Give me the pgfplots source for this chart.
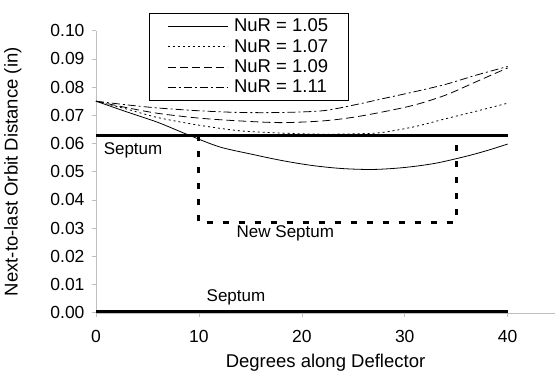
\documentclass[border=0pt]{standalone}
\usepackage{pgfplots}
\pgfplotsset{compat=1.18}
\usepackage{fontspec}
\setmainfont{Liberation Sans}
\newcommand{\lf}{\fontsize{17bp}{19bp}\selectfont}
\newcommand{\legf}{\fontsize{18.5bp}{21bp}\selectfont}
\begin{document}
\begin{tikzpicture}
\begin{axis}[
  scale only axis,
  width=459bp, height=282bp,
  at={(96bp,60.3bp)}, anchor=south west,
  xmin=0, xmax=44.6, ymin=0, ymax=0.1,
  axis lines=left,
  axis line style={draw=gray!50, -},
  clip=false,
  xtick={0,10,20,30,40},
  ytick={0,0.01,...,0.101},
  tick align=outside,
  major tick length=4bp,
  tick style={draw=gray!50, line width=0.6pt},
  /pgf/number format/assume math mode=true,
  /pgf/number format/.cd, fixed, fixed zerofill, precision=2, /pgfplots/.cd,
  xticklabel={\pgfmathprintnumber[fixed,precision=0]{\tick}},
  tick label style={font=\fontsize{17.5bp}{19bp}\selectfont},
  xticklabel style={yshift=-10bp},
  yticklabel style={xshift=-4bp},
  xlabel={Degrees along Deflector},
  ylabel={Next-to-last Orbit Distance (in)},
  label style={font=\fontsize{18.5bp}{20bp}\selectfont},
  xlabel style={at={(axis description cs:0.5,-0.178)}, anchor=center},
  ylabel style={at={(axis description cs:-0.181,0.5)}, anchor=center},
  legend style={at={(axis description cs:0.1155,1.064)}, anchor=north west,
    draw=black, line width=0.6pt, font=\legf,
    inner xsep=18bp, inner ysep=4bp, row sep=2bp, column sep=4bp},
  legend cell align=left,
  legend image code/.code={\draw[#1, line width=0.8pt] (0bp,0bp) -- (60bp,0bp);},
]
\addplot[black, line width=0.8pt, smooth] coordinates {
(0,0.075) (3,0.0712) (6,0.0675) (9,0.063) (12,0.0588) (15,0.0563) (18,0.054) (21,0.0522) (24,0.0511) (27,0.0508) (30,0.0515) (33,0.053) (36,0.0555) (38,0.0575) (40,0.0598)};
\addlegendentry{NuR = 1.05}
\addplot[black, line width=0.8pt, smooth, dash pattern=on 2bp off 3bp] coordinates {
(0,0.075) (3,0.0722) (6,0.0692) (10,0.0665) (14,0.0645) (18,0.0637) (22,0.0633) (26,0.0635) (28,0.064) (31,0.066) (34,0.0688) (37,0.0715) (40,0.0743)};
\addlegendentry{NuR = 1.07}
\addplot[black, line width=0.8pt, smooth, dash pattern=on 8bp off 4bp] coordinates {
(0,0.075) (3,0.0727) (6,0.0707) (10,0.069) (14,0.068) (18,0.0674) (22,0.068) (25,0.0693) (28,0.0713) (31,0.0737) (34,0.0772) (37,0.082) (40,0.0868)};
\addlegendentry{NuR = 1.09}
\addplot[black, line width=0.8pt, smooth, dash pattern=on 8bp off 3bp on 2bp off 3bp] coordinates {
(0,0.075) (3,0.0737) (6,0.0726) (10,0.0716) (14,0.071) (18,0.071) (22,0.0716) (25,0.0736) (28,0.076) (31,0.0784) (34,0.081) (37,0.0843) (40,0.0873)};
\addlegendentry{NuR = 1.11}
\addplot[black, line width=3bp, forget plot] coordinates {(0,0.063) (40,0.063)};
\addplot[black, line width=3bp, forget plot] coordinates {(0,0.0003) (40,0.0003)};
\addplot[black, line width=3bp, dash pattern=on 6bp off 10bp, forget plot] coordinates {(10,0.063) (10,0.032) (35,0.032) (35,0.063)};
\node[font=\lf] at (axis cs:3.6,0.0575) {Septum};
\node[font=\lf] at (axis cs:18.4,0.0283) {New Septum};
\node[font=\lf] at (axis cs:13.6,0.0055) {Septum};
\end{axis}
\pgfresetboundingbox
\path[use as bounding box] (0,0) rectangle (557bp,373bp);
\end{tikzpicture}
\end{document}
